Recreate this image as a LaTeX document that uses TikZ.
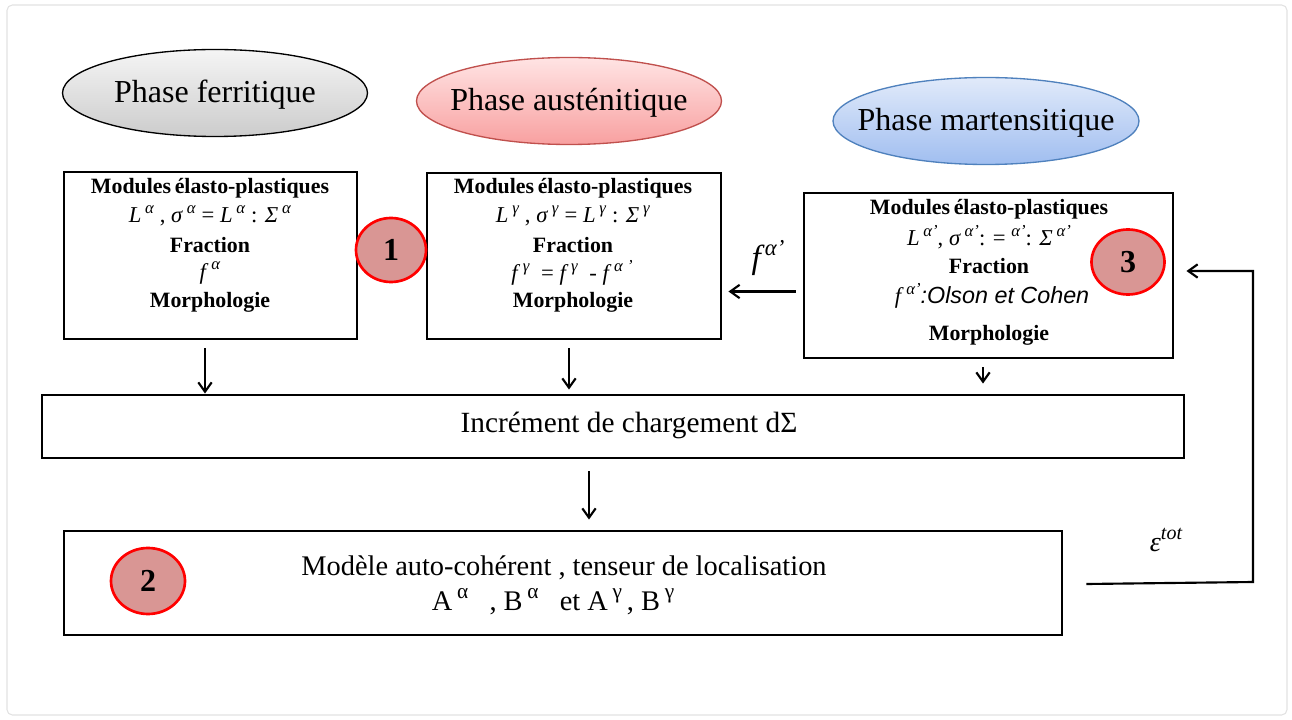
\documentclass[tikz,border=0pt]{standalone}
\usepackage{fontspec}
\setmainfont{Liberation Serif}
\newfontfamily\olsonfont{Liberation Sans}
\usetikzlibrary{arrows.meta,shapes.geometric}
\definecolor{circfill}{HTML}{D99694}
\definecolor{circline}{HTML}{FF0000}
\definecolor{framegray}{HTML}{E2E2E2}
\newcommand\sps[1]{\raisebox{0.42em}{\fontsize{12.5}{12.5}\selectfont #1}}
\newcommand\fs[1]{\fontsize{#1}{#1}\selectfont}
\def\pxu{0.75pt}
\begin{document}
\begin{tikzpicture}[x=0.75pt,y=-0.75pt,
  phase/.style={ellipse, line width=1pt, inner sep=0pt},
  ptxt/.style={font=\fs{24}, inner sep=0pt},
  bigbox/.style={draw=black, line width=2.2pt, inner sep=0pt},
  bt/.style={font=\bfseries\fs{16.4}, inner sep=0pt},
  mt/.style={font=\fs{17}, inner sep=0pt},
  num/.style={ellipse, draw=circline, fill=circfill, line width=2pt, inner sep=0pt, font=\bfseries\fs{24}},
  arr/.style={line width=1.6pt, -{Straight Barb[length=7pt,width=10pt,line width=1.6pt]}},
]
\useasboundingbox (0,0) rectangle (1292,720);
\draw[framegray, line width=0.8pt, rounded corners=4pt, fill=white] (7,5) rectangle (1287,715);

% phases
\node[phase, draw=black, top color=gray!8, bottom color=gray!40, minimum width={305*\pxu}, minimum height={87*\pxu}] (pf) at (215,93) {};
\node[ptxt] (pft) at ([yshift={-2*\pxu}]pf.center) {Phase ferritique};
\node[phase, draw={rgb,255:red,192;green,80;blue,77}, top color={rgb,255:red,255;green,228;blue,228}, bottom color={rgb,255:red,248;green,160;blue,160}, minimum width={305*\pxu}, minimum height={87*\pxu}] (pa) at (569,101) {};
\node[ptxt] (pat) at ([yshift={-2*\pxu}]pa.center) {Phase austénitique};
\node[phase, draw={rgb,255:red,79;green,129;blue,189}, top color={rgb,255:red,225;green,234;blue,250}, bottom color={rgb,255:red,160;green,190;blue,240}, minimum width={306*\pxu}, minimum height={87*\pxu}] (pm) at (986,121) {};
\node[ptxt] (pmt) at ([yshift={-2*\pxu}]pm.center) {Phase martensitique};

% box 1
\node[bigbox, minimum width={293*\pxu}, minimum height={167*\pxu}] (b1) at (210.5,255.5) {};
\node[bt] (b1a) at (210,188) {Modules\,élasto-plastiques};
\node[mt] (b1b) at (210,216) {\textit{L}\,\sps{\textit{α}} , \textit{σ}\,\sps{\textit{α}} = \textit{L}\,\sps{\textit{α}} : \textit{Σ}\,\sps{\textit{α}}};
\node[bt] (b1c) at (210,245) {Fraction};
\node[mt] (b1d) at (210,273) {\textit{f}\kern2pt\sps{\textit{α}}};
\node[bt] (b1e) at (210,302) {Morphologie};

% box 2
\node[bigbox, minimum width={294*\pxu}, minimum height={166*\pxu}] (b2) at (574,256) {};
\node[bt] (b2a) at (573,188) {Modules\,élasto-plastiques};
\node[mt] (b2b) at (573,216) {\textit{L}\,\sps{\textit{γ}} , \textit{σ}\,\sps{\textit{γ}} = \textit{L}\,\sps{\textit{γ}} : \textit{Σ}\,\sps{\textit{γ}}};
\node[bt] (b2c) at (573,245) {Fraction};
\node[mt] (b2d) at (572,273) {\textit{f}\kern2pt\sps{\textit{γ}}\ \ = \textit{f}\kern2pt\sps{\textit{γ}}\ \ - \textit{f}\kern2pt\sps{\textit{α ’}}};
\node[bt] (b2e) at (573,302) {Morphologie};

% box 3
\node[bigbox, minimum width={369*\pxu}, minimum height={165*\pxu}] (b3) at (988.5,275.5) {};
\node[bt] (b3a) at (989,209) {Modules\,élasto-plastiques};
\node[mt] (b3b) at (989,237) {\textit{L}\,\sps{\textit{α’}}, \textit{σ}\,\sps{\textit{α’}}: = \sps{\textit{α’}}: \textit{Σ}\,\sps{\textit{α’}}};
\node[bt] (b3c) at (989,266) {Fraction};
\node[mt] (b3d) at (992,296) {\textit{f}\kern2pt\sps{\textit{α’}}\olsonfont\itshape\fs{17.5}:Olson et Cohen};
\node[bt] (b3e) at (989,335) {Morphologie};

% numbered circles
\node[num, minimum width={70*\pxu}, minimum height={64*\pxu}] (n1) at (391,250) {1};
\node[num, minimum width={73*\pxu}, minimum height={65*\pxu}] (n3) at (1128,262) {3};
\node[num, minimum width={74*\pxu}, minimum height={66*\pxu}] (n2) at (148,581) {2};

% increment box
\node[bigbox, minimum width={1142*\pxu}, minimum height={63*\pxu}] (inc) at (613,426.5) {};
\node[font=\fs{22}, inner sep=0pt] (inct) at (629,425) {Incrément de chargement dΣ};

% model box
\node[bigbox, minimum width={998*\pxu}, minimum height={104*\pxu}] (mod) at (563,583) {};
\node[font=\fs{21.3}, inner sep=0pt] (modt1) at (564,568) {Modèle auto-cohérent , tenseur de localisation};
\node[font=\fs{21.3}, inner sep=0pt] (modt2) at (553,602) {A\,\sps{\fs{16}α}\ \ \ , B\,\sps{\fs{16}α}\ \ \ et A\,\sps{\fs{16}γ}\,, B\,\sps{\fs{16}γ}};

% down arrows
\draw[arr] ([xshift={-5.5*\pxu}, yshift={-8*\pxu}]b1.south) -- ([xshift={-5.5*\pxu}]b1.south |- inc.north);
\draw[arr] ([xshift={-5*\pxu}, yshift={-8*\pxu}]b2.south) -- ([xshift={-5*\pxu}, yshift={4*\pxu}]b2.south |- inc.north);
\draw[arr] ([xshift={-5.5*\pxu}, yshift={-8*\pxu}]b3.south) -- ([xshift={-5.5*\pxu}, yshift={10*\pxu}]b3.south |- inc.north);
\draw[arr] ([xshift={-24*\pxu}, yshift={-12*\pxu}]inc.south) -- ([xshift={-24*\pxu}, yshift={10*\pxu}]inc.south |- mod.north);

% horizontal arrow between boxes 3 and 2
\draw[arr] ([xshift={-7*\pxu}, yshift={-16*\pxu}]b3.west) -- ([xshift={6*\pxu}, yshift={-16*\pxu}]b3.west -| b2.east);
\node[font=\itshape\fs{25}, inner sep=0pt] (flab) at (768,258) {f\kern3pt\raisebox{0.4em}{\fs{17}α’}};

% feedback loop
\coordinate (fbA) at (1253,582);
\coordinate (fbB) at (1253,271);
\draw[arr]
  ([xshift={23*\pxu}, yshift={-1*\pxu}]mod.east) -- (fbA) -- (fbB) -- ([xshift={12*\pxu}]fbB -| b3.east);
\node[font=\itshape\fs{21}, inner sep=0pt] (eps) at (1166,540) {ε\raisebox{0.4em}{\fs{15}tot}};
\end{tikzpicture}
\end{document}
